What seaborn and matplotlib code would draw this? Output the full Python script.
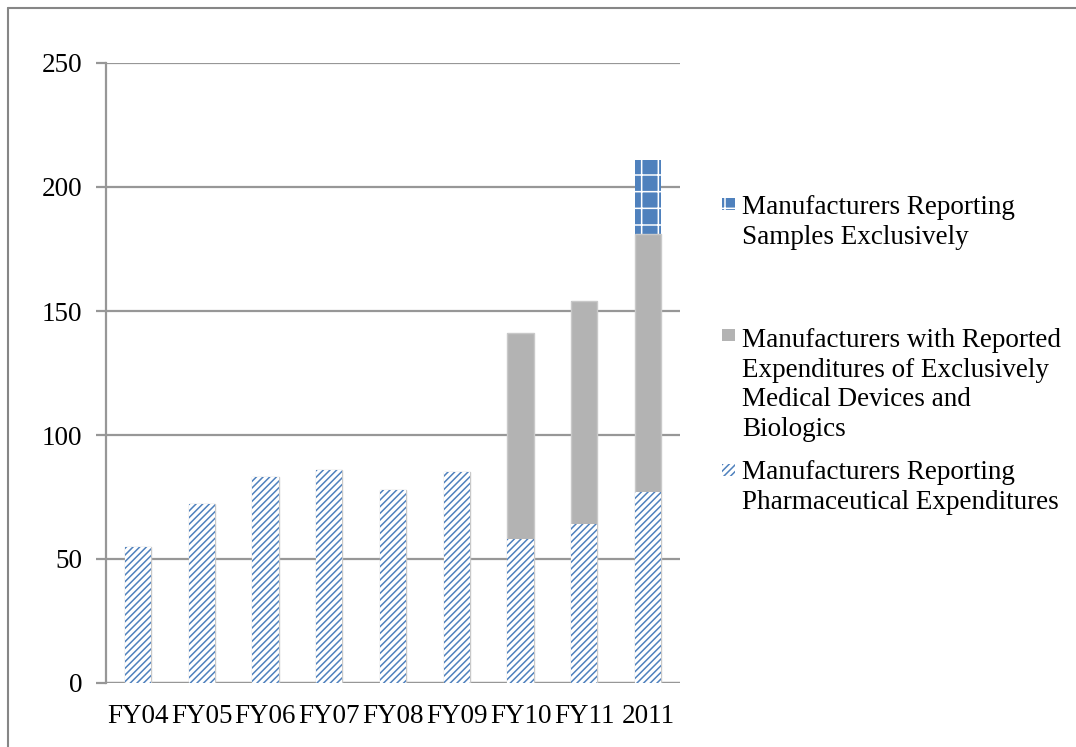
import matplotlib
matplotlib.use("Agg")
import matplotlib.pyplot as plt
import seaborn as sns
from matplotlib.patches import Rectangle
from matplotlib.lines import Line2D

years = ["FY04", "FY05", "FY06", "FY07", "FY08", "FY09", "FY10", "FY11", "2011"]
pharma = [55, 72, 83, 86, 78, 85, 58, 64, 77]
devices = [0, 0, 0, 0, 0, 0, 83, 90, 104]
samples = [0, 0, 0, 0, 0, 0, 0, 0, 30]

lab_samples = "Manufacturers Reporting\nSamples Exclusively"
lab_devices = "Manufacturers with Reported\nExpenditures of Exclusively\nMedical Devices and\nBiologics"
lab_pharma = "Manufacturers Reporting\nPharmaceutical Expenditures"

BLUE = "#4F81BD"
GRAY = "#B3B3B3"
W, H = 1076, 747

sns.set_style("white")
plt.rcParams["font.family"] = ["Liberation Serif", "DejaVu Serif"]
plt.rcParams["text.color"] = "black"
plt.rcParams["xtick.labelcolor"] = "black"
plt.rcParams["ytick.labelcolor"] = "black"
plt.rcParams["hatch.linewidth"] = 1.1

fig = plt.figure(figsize=(W / 100, H / 100), dpi=100)
ax = fig.add_axes([106 / W, 1 - 683 / H, (680 - 106) / W, (683 - 63) / H])

# stacked bars drawn as overlaid cumulative totals
mid = [p + d for p, d in zip(pharma, devices)]
top = [m + s for m, s in zip(mid, samples)]

n0 = len(ax.patches)
sns.barplot(x=years, y=top, color=BLUE, saturation=1, width=0.41, ax=ax)
for b in ax.patches[n0:]:
    b.set_hatch("+")
    b.set_edgecolor("white")
    b.set_linewidth(0)

n0 = len(ax.patches)
sns.barplot(x=years, y=mid, color=GRAY, saturation=1, width=0.41, ax=ax)
for b in ax.patches[n0:]:
    b.set_edgecolor("#C9C9C9")
    b.set_linewidth(1)

n0 = len(ax.patches)
sns.barplot(x=years, y=pharma, color="white", saturation=1, width=0.41, ax=ax)
for b in ax.patches[n0:]:
    b.set_hatch("/////")
    b.set_edgecolor(BLUE)
    b.set_linewidth(0)

ax.set_ylim(0, 250)
ax.set_xlim(-0.5, len(years) - 0.5)
ax.set_yticks(range(0, 251, 50))
ax.set_xlabel("")
ax.set_ylabel("")
ax.yaxis.grid(True, color="#979797", linewidth=1.6)
ax.set_axisbelow(True)
for s in ["top", "right", "bottom"]:
    ax.spines[s].set_visible(False)
ax.spines["left"].set_color("#979797")
ax.spines["left"].set_linewidth(1.6)
ax.axhline(0, color="#979797", linewidth=1.6, zorder=0.5)

ax.set_xticks([i + 0.5 for i in range(-1, len(years))], minor=True)
ax.tick_params(axis="x", which="major", length=0, pad=15, labelsize=19.5)
ax.tick_params(axis="x", which="minor", length=7, width=1.6, color="#979797", direction="out")
ax.tick_params(axis="y", length=7, width=1.6, color="#979797", pad=10, labelsize=19.5, left=True)

# legend entries
for text, ytop in [(lab_samples, 195), (lab_devices, 328), (lab_pharma, 460)]:
    fig.text(742 / W, 1 - ytop / H, text, fontsize=19.5, va="top", ha="left",
             linespacing=1.25, color="black")
for kind, ycen in [("samples", 204), ("devices", 335), ("pharma", 470)]:
    if kind == "samples":
        r = Rectangle((722 / W, 1 - (ycen + 6) / H), 13 / W, 12 / H, transform=fig.transFigure,
                      facecolor=BLUE, edgecolor="white", hatch="+", linewidth=0)
    elif kind == "devices":
        r = Rectangle((722 / W, 1 - (ycen + 6) / H), 13 / W, 12 / H, transform=fig.transFigure,
                      facecolor=GRAY, edgecolor=GRAY, linewidth=0)
    else:
        r = Rectangle((722 / W, 1 - (ycen + 6) / H), 13 / W, 12 / H, transform=fig.transFigure,
                      facecolor="white", edgecolor=BLUE, hatch="/////", linewidth=0)
    fig.add_artist(r)

# outer chart border
fig.add_artist(Line2D([8 / W, 1], [1 - 8 / H, 1 - 8 / H], transform=fig.transFigure,
                      color="#868686", linewidth=1.5))
fig.add_artist(Line2D([8 / W, 8 / W], [1 - 8 / H, 0], transform=fig.transFigure,
                      color="#868686", linewidth=1.5))

fig.savefig("out.png", dpi=100)
